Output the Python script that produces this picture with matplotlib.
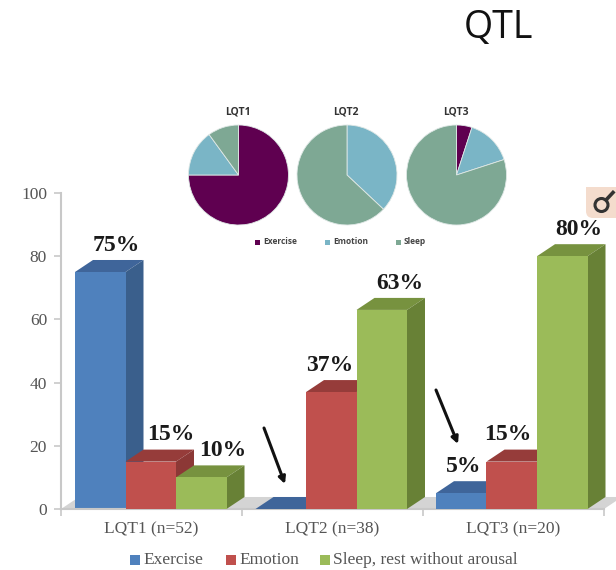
import matplotlib
matplotlib.use("Agg")
import matplotlib.pyplot as plt
from matplotlib.patches import Circle, FancyBboxPatch, Polygon, Rectangle

# values per group, in percent
groups = ["LQT1 (n=52)", "LQT2 (n=38)", "LQT3 (n=20)"]
exercise = [75, 0, 5]
emotion = [15, 37, 15]
sleep = [10, 63, 80]
bar_series = ["Exercise", "Emotion", "Sleep, rest without arousal"]
pie_names = ["LQT1", "LQT2", "LQT3"]
pie_series = ["Exercise", "Emotion", "Sleep"]
y_ticks = [0, 20, 40, 60, 80, 100]

W, H = 616, 570
SERIF = "Liberation Serif"
SANS = "Open Sans"

front_cols = ["#4f81bd", "#c0504d", "#9bbb59"]
top_cols = ["#3f659a", "#963c3a", "#77923f"]
side_cols = ["#3a5f8c", "#8c3836", "#688136"]
pie_cols = ["#5f0050", "#7ab5c6", "#7ea894"]


def px_axes(fig, left, top, right, bottom):
    return fig.add_axes([left / W, 1 - bottom / H, (right - left) / W, (bottom - top) / H])


fig = plt.figure(figsize=(W / 100, H / 100), dpi=100)

# overlay in pixel units for the free-standing annotations
over = fig.add_axes([0, 0, 1, 1], zorder=5)
over.set_xlim(0, W)
over.set_ylim(H, 0)
over.axis("off")
over.patch.set_alpha(0)

# main bar chart
ax = px_axes(fig, 61, 193, 604, 509)
ax.set_xlim(0, 3)
ax.set_ylim(0, 100)
for s in ["top", "right"]:
    ax.spines[s].set_visible(False)
for s in ["left", "bottom"]:
    ax.spines[s].set_color("#c8c8c8")
    ax.spines[s].set_linewidth(1.5)
ax.set_yticks(y_ticks)
ax.set_xticks([0, 1, 2, 3])
ax.set_xticklabels([])
ax.tick_params(axis="both", color="#c8c8c8", width=1.2, length=5)
ax.set_yticklabels([str(t) for t in y_ticks], fontfamily=SERIF, fontsize=12.5, color="#555555")
ax.tick_params(axis="y", pad=5)

dx, dy = 18 / 181, 3.8
bar_w = 50.5 / 181
start = 14 / 181

# grey floor behind the bars
ax.add_patch(Polygon([(0, 0), (3, 0), (3 + dx, dy), (dx, dy)], closed=True,
                     fc="#d4d4d4", ec="none", zorder=1, clip_on=False))

series_vals = [exercise, emotion, sleep]
label_shift = [[16, 20, 21], [0, -2, 18], [2, -4, 17]]
for g in range(3):
    for s in range(3):
        v = series_vals[s][g]
        x0 = g * 180.5 / 181 + start + s * bar_w
        x1 = x0 + bar_w
        z = 2 + g * 3 + s
        ax.add_patch(Polygon([(x0, v), (x1, v), (x1 + dx, v + dy), (x0 + dx, v + dy)],
                             closed=True, fc=top_cols[s], ec="none", zorder=z, clip_on=False))
        if v > 0:
            ax.add_patch(Polygon([(x1, 0), (x1 + dx, dy), (x1 + dx, v + dy), (x1, v)],
                                 closed=True, fc=side_cols[s], ec="none", zorder=z, clip_on=False))
            ax.bar(x0, v, width=bar_w, align="edge", color=front_cols[s], zorder=z + 0.5, clip_on=False)
            ax.text(x0 + bar_w / 2 + label_shift[g][s] / 181, v + dy + 4.7, f"{v}%",
                    ha="center", va="center", fontfamily=SERIF, fontweight="bold",
                    fontsize=17, color="#1a1a1a", zorder=30, clip_on=False)
    ax.text(g + 0.5, -6.6, groups[g], ha="center", va="center", fontfamily=SERIF,
            fontsize=12.5, color="#555555", clip_on=False)

# pies above the bars
pie_vals = [[exercise[i], emotion[i], sleep[i]] for i in range(3)]
centers = [238.5, 347, 456.5]
for name, vals, cx in zip(pie_names, pie_vals, centers):
    pa = px_axes(fig, cx - 51, 124, cx + 51, 226)
    pa.set_zorder(4)
    pa.pie(vals, colors=pie_cols, startangle=90, counterclock=False, radius=1,
           wedgeprops={"edgecolor": "#dfe8e6", "linewidth": 0.6})
    pa.set_xlim(-1.02, 1.02)
    pa.set_ylim(-1.02, 1.02)
    over.text(cx - 1, 112, name, ha="center", va="center", fontfamily=SANS,
              fontweight="bold", fontsize=7.5, color="#333333")

for name, col, mx in zip(pie_series, pie_cols, [257, 327, 398]):
    over.plot([mx], [241.5], marker="s", ms=3.6, color=col, mew=0)
    over.text(mx + 6, 241.5, name, ha="left", va="center", fontfamily=SANS,
              fontweight="bold", fontsize=6, color="#444444")

# bottom legend
for name, col, mx in zip(bar_series, front_cols, [135, 231, 325]):
    over.plot([mx], [560], marker="s", ms=6.5, color=col, mew=0)
    over.text(mx + 8, 560, name, ha="left", va="center", fontfamily=SERIF,
              fontsize=12.5, color="#555555")

# arrows pointing at the small bars
for (x0, y0), (x1, y1) in [((264, 428), (285, 484)), ((436, 390), (458, 444))]:
    over.annotate("", xy=(x1, y1), xytext=(x0, y0),
                  arrowprops=dict(arrowstyle="-|>", color="#111111", lw=2.2, mutation_scale=10,
                                  shrinkA=0, shrinkB=0))

over.text(498, 28, "QTL", ha="center", va="center", fontfamily=SANS, fontsize=27, color="#111111")

# small badge at the right edge
over.add_patch(FancyBboxPatch((586, 187), 40, 31, boxstyle="round,pad=0,rounding_size=7",
                              fc="#f4dccd", ec="none"))
over.add_patch(Rectangle((586, 187), 30, 12, fc="#f4dccd", ec="none"))
over.add_patch(Circle((601.5, 205), 6.5, fc="none", ec="#333333", lw=2.2))
over.plot([606, 613], [200, 192.5], color="#333333", lw=2.6)

fig.savefig("out.png", dpi=100)
